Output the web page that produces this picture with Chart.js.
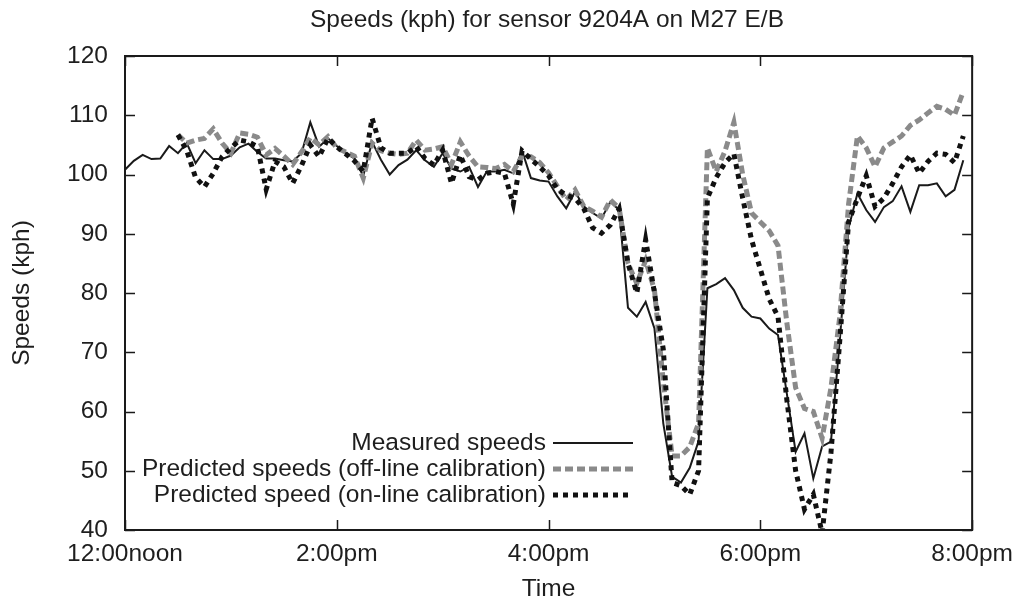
<!DOCTYPE html>
<html>
<head>
<meta charset="utf-8">
<script src="https://cdn.jsdelivr.net/npm/chart.js@4/dist/chart.umd.min.js"></script>
<style>
  html, body { margin: 0; padding: 0; background: #fff; }
</style>
</head>
<body>
<canvas id="chart" width="1023" height="607"></canvas>
<script>
// speeds every 5 minutes from 12:00noon to 8:00pm (kph)
const measured = [
  100.8, 102.3, 103.3, 102.6, 102.7, 104.8, 103.6, 105.3, 101.9, 104.1,
  102.6, 102.6, 103.2, 104.6, 105.2, 103.8, 102.7, 102.7, 102.4, 102.2,
  103.6, 108.8, 104.7, 106.1, 104.8, 103.6, 102.7, 99.8, 105.5, 102.5,
  100.0, 101.6, 102.5, 104.1, 102.4, 101.3, 103.6, 101.0, 100.5, 101.3,
  97.9, 100.5, 100.5, 100.8, 100.2, 104.0, 99.4, 99.0, 98.8, 96.3,
  94.3, 97.1, 94.6, 93.5, 92.6, 95.4, 94.0, 77.5, 76.0, 78.5,
  74.0, 58.0, 49.0, 48.0, 50.5, 55.0, 80.8, 81.5, 82.5, 80.5,
  77.5, 76.0, 75.7, 74.0, 72.9, 63.0, 53.2, 56.3, 48.7, 54.1,
  54.9, 72.0, 91.0, 96.8, 94.0, 92.0, 94.5, 95.5, 98.0, 93.7,
  98.2, 98.2, 98.5, 96.3, 97.4, 102.4, null
];

const offline = [
  null, null, null, null, null, null, 106.7, 105.3, 105.8, 106.1,
  107.7, 105.3, 103.6, 107.0, 106.8, 106.3, 103.3, 104.4, 103.1, 101.7,
  103.8, 106.2, 105.0, 106.4, 104.5, 103.8, 103.1, 99.4, 105.3, 104.0,
  103.6, 103.4, 103.6, 105.8, 104.1, 104.3, 104.7, 101.7, 105.5, 103.1,
  101.3, 101.2, 101.0, 101.7, 100.5, 103.1, 103.0, 102.0, 100.3, 98.0,
  95.7, 97.4, 94.6, 93.8, 92.8, 95.7, 94.3, 85.0, 81.6, 85.5,
  80.5, 65.0, 52.5, 52.5, 54.0, 58.0, 104.5, 100.5, 104.0, 108.8,
  100.0, 93.5, 92.0, 90.5, 88.0, 75.0, 64.0, 60.5, 60.0, 55.5,
  64.0, 76.0, 95.0, 106.5, 104.5, 101.3, 104.5, 105.5, 106.5, 108.3,
  109.2, 110.4, 111.5, 111.0, 110.0, 114.0, null
];

const online = [
  null, null, null, null, null, null, 106.7, 104.0, 99.5, 97.9,
  100.2, 103.0, 104.5, 105.8, 105.5, 104.7, 97.5, 102.2, 101.3, 98.5,
  101.5, 105.0, 103.0, 106.1, 104.7, 103.5, 102.3, 100.5, 109.5, 104.5,
  103.6, 103.6, 103.6, 104.7, 102.7, 101.6, 104.1, 98.5, 103.3, 99.6,
  99.1, 100.2, 100.5, 100.2, 95.0, 104.0, 102.6, 101.3, 99.8, 97.5,
  96.5, 96.0, 94.2, 91.0, 90.1, 91.5, 94.2, 85.0, 80.0, 89.0,
  80.0, 70.5, 48.0, 47.5, 46.0, 50.0, 96.0, 99.5, 102.0, 103.5,
  96.0, 89.0, 84.0, 79.0, 76.0, 62.0, 50.0, 43.5, 46.0, 39.5,
  53.0, 72.0, 92.0, 96.0, 99.8, 94.6, 96.0, 98.5, 101.3, 103.3,
  100.2, 102.2, 103.6, 103.4, 102.0, 106.5, null
];

const stepMinutes = 5;
const tickLabels = ['12:00noon', '2:00pm', '4:00pm', '6:00pm', '8:00pm'];
const seriesLabels = [
  'Measured speeds',
  'Predicted speeds (off-line calibration)',
  'Predicted speed (on-line calibration)'
];
const chartTitle = 'Speeds (kph) for sensor 9204A on M27 E/B';

const FONT = 'Liberation Sans, Arial, Helvetica, sans-serif';
const SIZE = 24.5;
const TEXT = '#1e1e1e';

function points(values) {
  return values.map((v, i) => ({ x: i * stepMinutes, y: v }));
}

// gnuplot style frame, inward ticks on all sides, title and the key
const gnuplotFrame = {
  id: 'gnuplotFrame',
  afterDatasetsDraw(chart) {
    const { ctx, chartArea: a, scales } = chart;
    ctx.save();
    ctx.strokeStyle = '#1a1a1a';
    ctx.lineWidth = 1.5;
    ctx.setLineDash([]);
    scales.y.ticks.forEach(t => {
      const y = Math.round(scales.y.getPixelForValue(t.value)) + 0.5;
      ctx.beginPath();
      ctx.moveTo(a.left, y); ctx.lineTo(a.left + 10, y);
      ctx.moveTo(a.right, y); ctx.lineTo(a.right - 10, y);
      ctx.stroke();
    });
    scales.x.ticks.forEach(t => {
      const x = Math.round(scales.x.getPixelForValue(t.value)) + 0.5;
      ctx.beginPath();
      ctx.moveTo(x, a.bottom); ctx.lineTo(x, a.bottom - 10);
      ctx.moveTo(x, a.top); ctx.lineTo(x, a.top + 10);
      ctx.stroke();
    });
    ctx.lineWidth = 2;
    ctx.strokeRect(a.left, a.top, a.right - a.left, a.bottom - a.top);

    ctx.font = SIZE + 'px ' + FONT;
    ctx.fillStyle = TEXT;
    ctx.textAlign = 'center';
    ctx.textBaseline = 'middle';
    ctx.fillText(chartTitle, 547, 20);

    // key
    ctx.textAlign = 'right';
    chart.data.datasets.forEach((ds, i) => {
      const y = 443 + i * 26;
      ctx.fillStyle = TEXT;
      ctx.fillText(ds.label, 546, y);
      ctx.beginPath();
      ctx.strokeStyle = ds.borderColor;
      ctx.lineWidth = ds.borderWidth;
      ctx.setLineDash(ds.borderDash || []);
      ctx.moveTo(553, y);
      ctx.lineTo(633, y);
      ctx.stroke();
    });
    ctx.restore();
  }
};

new Chart(document.getElementById('chart').getContext('2d'), {
  type: 'line',
  data: {
    datasets: [{
      label: seriesLabels[0],
      data: points(measured),
      borderColor: '#1a1a1a',
      borderWidth: 2,
      order: 3
    }, {
      label: seriesLabels[1],
      data: points(offline),
      borderColor: '#8a8a8a',
      borderWidth: 5,
      borderDash: [8, 4],
      order: 2
    }, {
      label: seriesLabels[2],
      data: points(online),
      borderColor: '#111111',
      borderWidth: 5,
      borderDash: [5, 5],
      order: 1
    }]
  },
  options: {
    responsive: false,
    animation: false,
    devicePixelRatio: 1,
    elements: {
      point: { radius: 0 },
      line: { tension: 0, fill: false }
    },
    layout: { padding: { left: 0, right: 46, top: 56, bottom: 0 } },
    plugins: {
      legend: { display: false },
      tooltip: { enabled: false },
      title: { display: false }
    },
    scales: {
      x: {
        type: 'linear',
        min: 0,
        max: 480,
        grid: { display: false, drawTicks: false },
        border: { display: false },
        ticks: {
          stepSize: 120,
          autoSkip: false,
          maxRotation: 0,
          padding: 10,
          color: TEXT,
          font: { family: FONT, size: SIZE },
          callback: v => tickLabels[v / 120]
        },
        title: {
          display: true,
          text: 'Time',
          color: TEXT,
          font: { family: FONT, size: SIZE },
          padding: { top: 0, bottom: 3 }
        },
        afterFit: s => { s.height = 77; }
      },
      y: {
        min: 40,
        max: 120,
        grid: { display: false, drawTicks: false },
        border: { display: false },
        ticks: {
          stepSize: 10,
          padding: 17,
          color: TEXT,
          font: { family: FONT, size: SIZE }
        },
        title: {
          display: true,
          text: 'Speeds (kph)',
          color: TEXT,
          font: { family: FONT, size: SIZE },
          padding: { top: 8, bottom: 0 }
        },
        afterFit: s => { s.width = 125; }
      }
    }
  },
  plugins: [gnuplotFrame]
});
</script>
</body>
</html>
